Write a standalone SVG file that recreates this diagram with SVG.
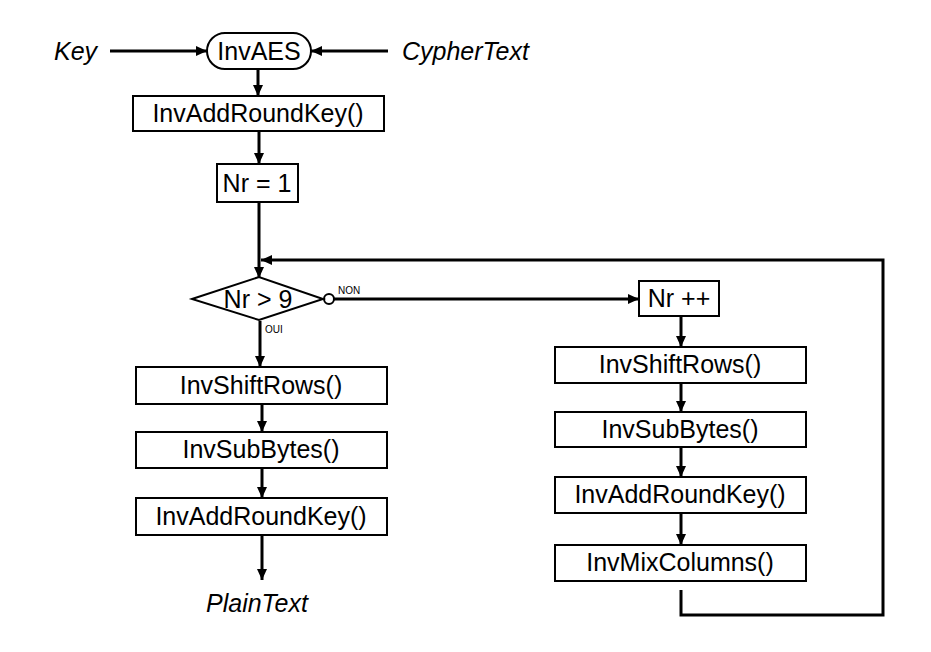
<svg xmlns="http://www.w3.org/2000/svg" width="931" height="652" viewBox="0 0 931 652">
<style>
.box{fill:#fff;stroke:#000;stroke-width:2}
.t{font-family:"Liberation Sans",Arial,sans-serif;font-size:25px;fill:#000;text-anchor:middle}
.it{font-family:"Liberation Sans",Arial,sans-serif;font-size:25px;font-style:italic;fill:#000}
.sm{font-family:"Liberation Sans",Arial,sans-serif;font-size:10px;fill:#000}
.c{fill:none;stroke:#000;stroke-width:3}
</style>
<defs>
<marker id="ah" markerUnits="userSpaceOnUse" markerWidth="12" markerHeight="10" refX="11" refY="5" orient="auto">
<path d="M0,0 L11,5 L0,10 Z" fill="#000"/>
</marker>
</defs>
<rect width="931" height="652" fill="#fff"/>
<g id="connectors">
<line class="c" x1="110" y1="51" x2="207" y2="51" marker-end="url(#ah)"/>
<line class="c" x1="388" y1="51" x2="311" y2="51" marker-end="url(#ah)"/>
<line class="c" x1="258" y1="69" x2="258" y2="96" marker-end="url(#ah)"/>
<line class="c" x1="259" y1="131" x2="259" y2="164" marker-end="url(#ah)"/>
<line class="c" x1="259" y1="202" x2="259" y2="278" marker-end="url(#ah)"/>
<polyline class="c" points="681,590 681,615 883,615 883,260 261,260" marker-end="url(#ah)"/>
<line class="c" x1="334" y1="299" x2="639" y2="299" marker-end="url(#ah)"/>
<line class="c" x1="260" y1="321" x2="260" y2="367" marker-end="url(#ah)"/>
<line class="c" x1="681" y1="317" x2="681" y2="347" marker-end="url(#ah)"/>
<line class="c" x1="681" y1="383" x2="681" y2="412" marker-end="url(#ah)"/>
<line class="c" x1="681" y1="447" x2="681" y2="477" marker-end="url(#ah)"/>
<line class="c" x1="681" y1="513" x2="681" y2="545" marker-end="url(#ah)"/>
<line class="c" x1="262" y1="404" x2="262" y2="432" marker-end="url(#ah)"/>
<line class="c" x1="262" y1="468" x2="262" y2="498" marker-end="url(#ah)"/>
<line class="c" x1="262" y1="535" x2="262" y2="580" marker-end="url(#ah)"/>
<circle cx="329" cy="299" r="5" fill="#fff" stroke="#000" stroke-width="2"/>
<text class="sm" x="338" y="294">NON</text>
<text class="sm" x="265" y="333">OUI</text>
</g>
<g id="key"><text class="it" x="54" y="60">Key</text></g>
<g id="cyphertext"><text class="it" x="402" y="60">CypherText</text></g>
<g id="invaes"><rect class="box" x="207" y="33" width="104" height="36" rx="18"/><text class="t" x="259" y="60">InvAES</text></g>
<g id="addroundkey0"><rect class="box" x="133" y="96" width="251" height="35"/><text class="t" x="258" y="122">InvAddRoundKey()</text></g>
<g id="nr1"><rect class="box" x="217" y="164" width="81" height="38"/><text class="t" x="257" y="192">Nr = 1</text></g>
<g id="decision"><polygon class="box" points="192,299 259,277 323,299 259,320"/><text class="t" x="258" y="308">Nr &gt; 9</text></g>
<g id="nrinc"><rect class="box" x="639" y="281" width="80" height="35"/><text class="t" x="679" y="307">Nr ++</text></g>
<g id="shiftrows_r"><rect class="box" x="555" y="347" width="251" height="36"/><text class="t" x="680" y="373">InvShiftRows()</text></g>
<g id="subbytes_r"><rect class="box" x="555" y="412" width="251" height="35"/><text class="t" x="680" y="438">InvSubBytes()</text></g>
<g id="addroundkey_r"><rect class="box" x="555" y="477" width="251" height="36"/><text class="t" x="680" y="503">InvAddRoundKey()</text></g>
<g id="mixcolumns_r"><rect class="box" x="555" y="545" width="251" height="36"/><text class="t" x="680" y="571">InvMixColumns()</text></g>
<g id="shiftrows_l"><rect class="box" x="136" y="367" width="251" height="37"/><text class="t" x="261" y="394">InvShiftRows()</text></g>
<g id="subbytes_l"><rect class="box" x="136" y="432" width="251" height="36"/><text class="t" x="261" y="458">InvSubBytes()</text></g>
<g id="addroundkey_l"><rect class="box" x="136" y="498" width="251" height="37"/><text class="t" x="261" y="525">InvAddRoundKey()</text></g>
<g id="plaintext"><text class="it" x="206" y="612">PlainText</text></g>
</svg>
